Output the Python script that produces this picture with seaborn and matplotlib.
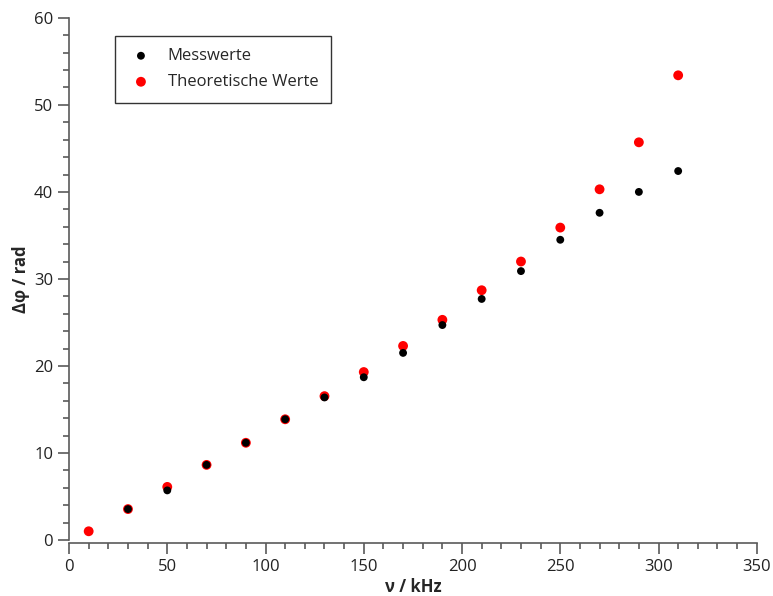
import pandas as pd
import seaborn as sns
import matplotlib.pyplot as plt

# Frequencies (kHz) and phase differences (rad)
freq_mess = [30, 50, 70, 90, 110, 130, 150, 170, 190, 210, 230, 250, 270, 290, 310]
phi_mess = [3.55, 5.7, 8.63, 11.17, 13.87, 16.38, 18.7, 21.5, 24.7, 27.7, 30.9, 34.5, 37.6, 40.0, 42.4]

freq_theo = [10, 30, 50, 70, 90, 110, 130, 150, 170, 190, 210, 230, 250, 270, 290, 310]
phi_theo = [1.0, 3.55, 6.1, 8.63, 11.17, 13.87, 16.53, 19.3, 22.3, 25.3, 28.7, 32.0, 35.9, 40.3, 45.7, 53.4]

df_mess = pd.DataFrame({"freq": freq_mess, "phi": phi_mess})
df_theo = pd.DataFrame({"freq": freq_theo, "phi": phi_theo})

sns.set_style("ticks")
plt.rcParams["font.family"] = ["Open Sans", "DejaVu Sans"]

fig = plt.figure(figsize=(7.73, 5.96), dpi=100)
ax = fig.add_axes([0.0893, 0.094, 0.8897, 0.876])

# red first, black on top
sns.scatterplot(data=df_theo, x="freq", y="phi", ax=ax, color="#ff0000", s=50,
                edgecolor="none", label="Theoretische Werte", zorder=3)
sns.scatterplot(data=df_mess, x="freq", y="phi", ax=ax, color="black", s=32,
                edgecolor="none", label="Messwerte", zorder=4)

ax.set_xlim(0, 350)
ax.set_ylim(0, 60)
ax.set_xticks(range(0, 351, 50))
ax.set_yticks(range(0, 61, 10))
ax.set_xticks(range(0, 351, 10), minor=True)
ax.set_yticks(range(0, 61, 2), minor=True)

sns.despine(ax=ax)
for side in ["left", "bottom"]:
    ax.spines[side].set_color("#5a5a5a")
    ax.spines[side].set_linewidth(1.2)
ax.spines["bottom"].set_position(("outward", 2.5))
ax.tick_params(which="major", length=8, width=1.2, color="#5a5a5a", labelsize=12, labelcolor="#222222")
ax.tick_params(which="minor", length=4, width=1.2, color="#5a5a5a")

ax.set_xlabel("ν / kHz", fontsize=12, fontweight="bold", labelpad=2)
ax.set_ylabel("Δφ / rad", fontsize=12, fontweight="bold", labelpad=3)

handles, labels = ax.get_legend_handles_labels()
leg = ax.legend(handles[::-1], labels[::-1], loc="upper left", bbox_to_anchor=(0.067, 0.966),
                borderaxespad=0, frameon=True, fancybox=False, edgecolor="black",
                fontsize=12, handletextpad=0.8, handlelength=1.6, borderpad=0.75,
                labelspacing=0.6)
leg.get_frame().set_linewidth(1.0)

plt.savefig("out.png", dpi=100)
plt.close()
